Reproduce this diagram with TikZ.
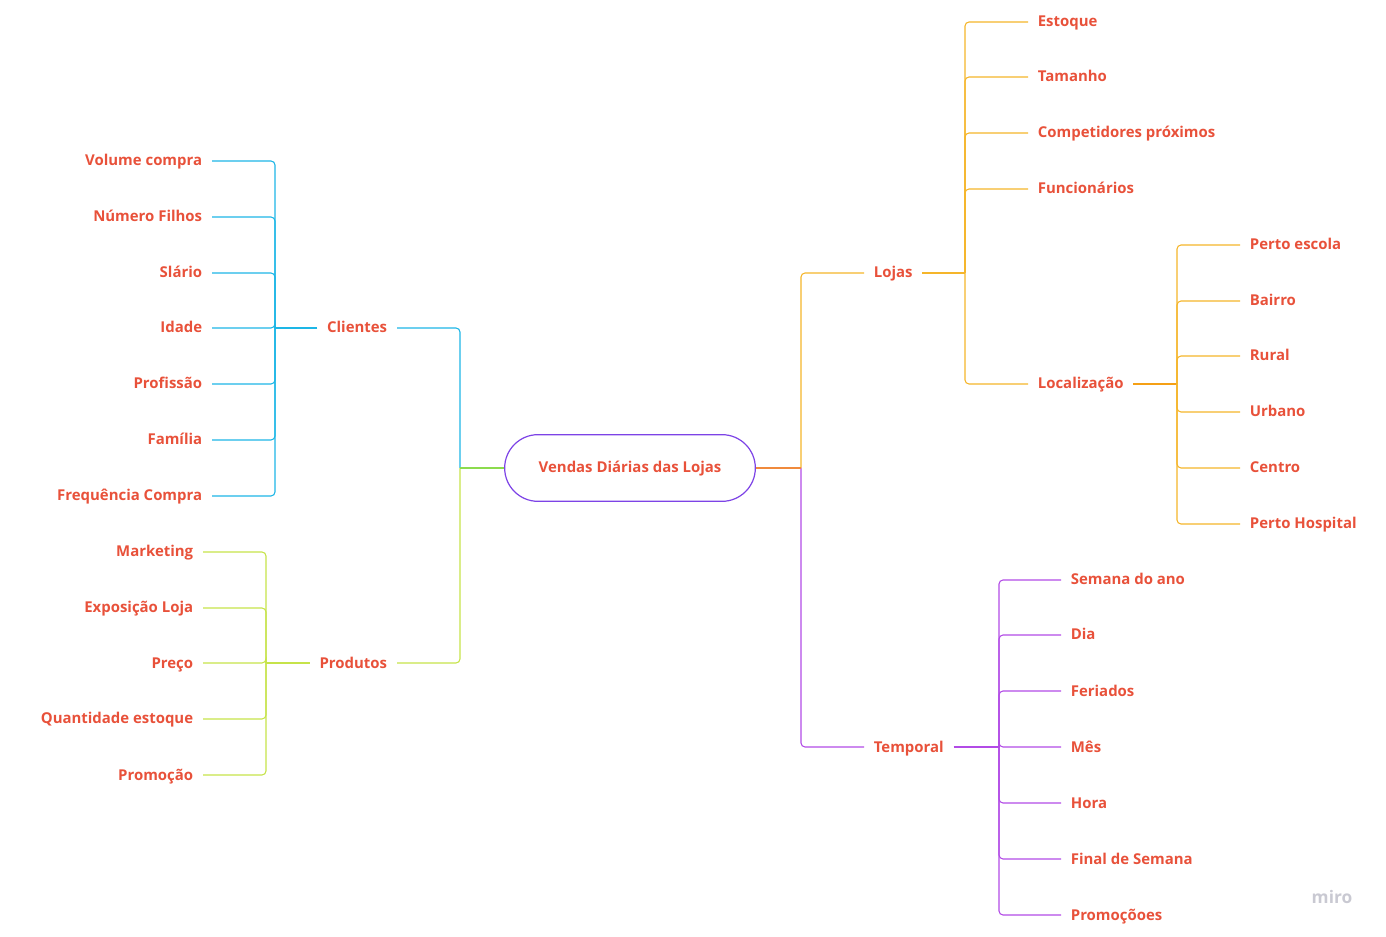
\documentclass[tikz,border=0pt]{standalone}
\usepackage{fontspec}
\setmainfont{Open Sans}
\usetikzlibrary{positioning}

\definecolor{texto}{HTML}{E8513A}
\definecolor{raiz}{HTML}{7D43E6}
\definecolor{cliC}{HTML}{1DB6E6}
\definecolor{proC}{HTML}{C6E34A}
\definecolor{verde}{HTML}{8CDB4E}
\definecolor{lojC}{HTML}{F5B52A}
\definecolor{locC}{HTML}{F5A015}
\definecolor{laranja}{HTML}{F08A3C}
\definecolor{temC}{HTML}{B24BE6}
\definecolor{marca}{HTML}{C9C9D2}

\begin{document}
\begin{tikzpicture}[x=0.75pt,y=-0.75pt,
    every node/.style={font=\bfseries\fontsize{11.2}{13}\selectfont, text=texto, inner xsep=7.2pt, inner ysep=2pt, text height=8pt, text depth=0.5pt},
    leaf/.style={line width=0.8pt, rounded corners=3pt},
    stub/.style={line width=1.4pt}]

  \useasboundingbox (0,0) rectangle (1386,937);

  % Zentrum
  \node[draw=raiz, line width=0.9pt, rounded corners=25pt, minimum width=188pt, minimum height=50pt] (raiz) at (630,468) {Vendas Diárias das Lojas};

  % Hauptzweige
  \node[anchor=east] (clientes) at (397,328) {Clientes};
  \node[anchor=east] (produtos) at (397,663) {Produtos};
  \node[anchor=west] (lojas) at (864,273) {Lojas};
  \node[anchor=west] (temporal) at (864,747) {Temporal};
  \node[anchor=west] (localizacao) at (1028,384) {Localização};

  \coordinate (xl) at (460,0);
  \coordinate (xr) at (801,0);
  \coordinate (tc) at (275,0);
  \coordinate (tp) at (266,0);
  \coordinate (tl) at (965,0);
  \coordinate (tk) at (1177,0);
  \coordinate (tt) at (999,0);

  \draw[cliC, leaf] (raiz.west -| xl) |- (clientes.east);
  \draw[proC, leaf] (raiz.west -| xl) |- (produtos.east);
  \draw[verde, line width=0.8pt] (raiz.west) -- (raiz.west -| xl);
  \draw[lojC, leaf] (raiz.east -| xr) |- (lojas.west);
  \draw[temC, leaf] (raiz.east -| xr) |- (temporal.west);
  \draw[laranja, line width=0.8pt] (raiz.east) -- (raiz.east -| xr);

  % Clientes
  \node[anchor=east] (volume) at (212,161) {Volume compra};
  \node[anchor=east] (filhos) at (212,217) {Número Filhos};
  \node[anchor=east] (salario) at (212,273) {Slário};
  \node[anchor=east] (idade) at (212,328) {Idade};
  \node[anchor=east] (profissao) at (212,384) {Profissão};
  \node[anchor=east] (familia) at (212,440) {Família};
  \node[anchor=east] (frequencia) at (212,496) {Frequência Compra};

  \draw[cliC, stub] (clientes.west) -- (clientes.west -| tc);
  \draw[cliC, leaf] (clientes.west -| tc) |- (volume.east);
  \draw[cliC, leaf] (clientes.west -| tc) |- (filhos.east);
  \draw[cliC, leaf] (clientes.west -| tc) |- (salario.east);
  \draw[cliC, leaf] (clientes.west -| tc) |- (idade.east);
  \draw[cliC, leaf] (clientes.west -| tc) |- (profissao.east);
  \draw[cliC, leaf] (clientes.west -| tc) |- (familia.east);
  \draw[cliC, leaf] (clientes.west -| tc) |- (frequencia.east);

  % Produtos
  \node[anchor=east] (marketing) at (203,552) {Marketing};
  \node[anchor=east] (exposicao) at (203,608) {Exposição Loja};
  \node[anchor=east] (preco) at (203,663) {Preço};
  \node[anchor=east] (quantidade) at (203,719) {Quantidade estoque};
  \node[anchor=east] (promocao) at (203,775) {Promoção};

  \draw[proC, stub] (produtos.west) -- (produtos.west -| tp);
  \draw[proC, leaf] (produtos.west -| tp) |- (marketing.east);
  \draw[proC, leaf] (produtos.west -| tp) |- (exposicao.east);
  \draw[proC, leaf] (produtos.west -| tp) |- (preco.east);
  \draw[proC, leaf] (produtos.west -| tp) |- (quantidade.east);
  \draw[proC, leaf] (produtos.west -| tp) |- (promocao.east);

  % Lojas
  \node[anchor=west] (estoque) at (1028,22) {Estoque};
  \node[anchor=west] (tamanho) at (1028,77) {Tamanho};
  \node[anchor=west] (competidores) at (1028,133) {Competidores próximos};
  \node[anchor=west] (funcionarios) at (1028,189) {Funcionários};

  \draw[lojC, stub] (lojas.east) -- (lojas.east -| tl);
  \draw[lojC, leaf] (lojas.east -| tl) |- (estoque.west);
  \draw[lojC, leaf] (lojas.east -| tl) |- (tamanho.west);
  \draw[lojC, leaf] (lojas.east -| tl) |- (competidores.west);
  \draw[lojC, leaf] (lojas.east -| tl) |- (funcionarios.west);
  \draw[lojC, leaf] (lojas.east -| tl) |- (localizacao.west);

  % Localizacao
  \node[anchor=west] (escola) at (1240,245) {Perto escola};
  \node[anchor=west] (bairro) at (1240,301) {Bairro};
  \node[anchor=west] (rural) at (1240,356) {Rural};
  \node[anchor=west] (urbano) at (1240,412) {Urbano};
  \node[anchor=west] (centro) at (1240,468) {Centro};
  \node[anchor=west] (hospital) at (1240,524) {Perto Hospital};

  \draw[locC, stub] (localizacao.east) -- (localizacao.east -| tk);
  \draw[lojC, leaf] (localizacao.east -| tk) |- (escola.west);
  \draw[lojC, leaf] (localizacao.east -| tk) |- (bairro.west);
  \draw[lojC, leaf] (localizacao.east -| tk) |- (rural.west);
  \draw[lojC, leaf] (localizacao.east -| tk) |- (urbano.west);
  \draw[lojC, leaf] (localizacao.east -| tk) |- (centro.west);
  \draw[lojC, leaf] (localizacao.east -| tk) |- (hospital.west);

  % Temporal
  \node[anchor=west] (semana) at (1061,580) {Semana do ano};
  \node[anchor=west] (dia) at (1061,635) {Dia};
  \node[anchor=west] (feriados) at (1061,691) {Feriados};
  \node[anchor=west] (mes) at (1061,747) {Mês};
  \node[anchor=west] (hora) at (1061,803) {Hora};
  \node[anchor=west] (final) at (1061,859) {Final de Semana};
  \node[anchor=west] (promocoes) at (1061,915) {Promoçõoes};

  \draw[temC, stub] (temporal.east) -- (temporal.east -| tt);
  \draw[temC, leaf] (temporal.east -| tt) |- (semana.west);
  \draw[temC, leaf] (temporal.east -| tt) |- (dia.west);
  \draw[temC, leaf] (temporal.east -| tt) |- (feriados.west);
  \draw[temC, leaf] (temporal.east -| tt) |- (mes.west);
  \draw[temC, leaf] (temporal.east -| tt) |- (hora.west);
  \draw[temC, leaf] (temporal.east -| tt) |- (final.west);
  \draw[temC, leaf] (temporal.east -| tt) |- (promocoes.west);

  % Logo
  \node[text=marca, font=\bfseries\fontsize{13}{14}\selectfont] (miro) at (1332,898) {miro};

\end{tikzpicture}
\end{document}
